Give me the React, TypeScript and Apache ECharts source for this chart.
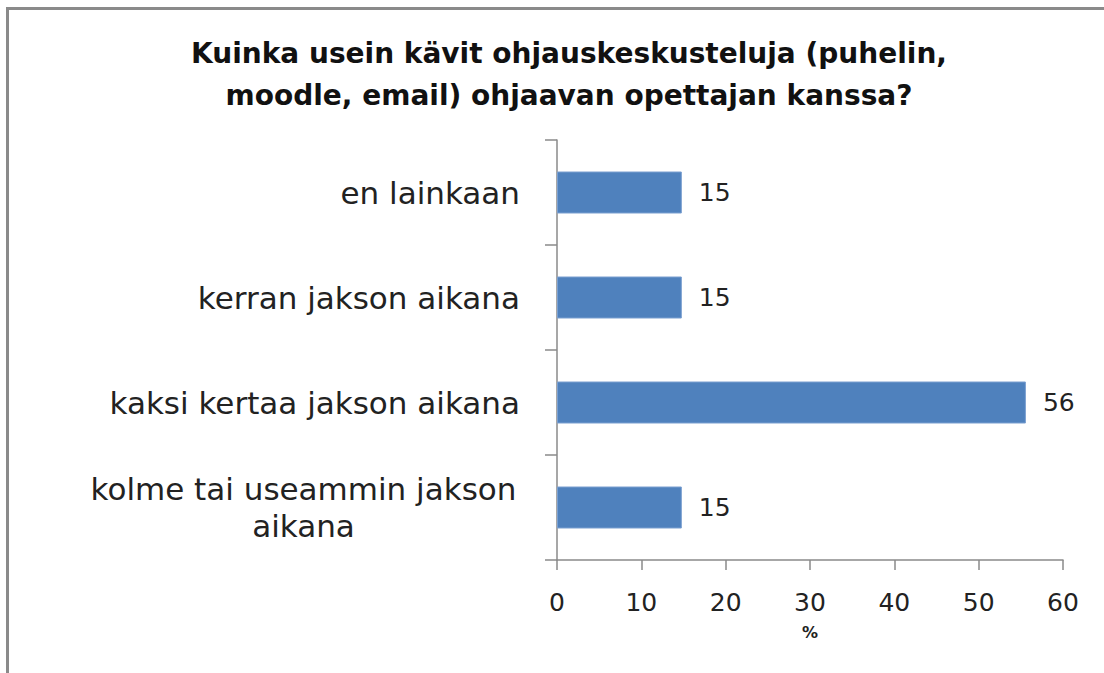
import React, { useEffect, useRef } from "react";
import * as echarts from "echarts";

const titleText = "Kuinka usein kävit ohjauskeskusteluja (puhelin,\nmoodle, email) ohjaavan opettajan kanssa?";
const categories = [
  "en lainkaan",
  "kerran jakson aikana",
  "kaksi kertaa jakson aikana",
  "kolme tai useammin jakson aikana",
];
const values = [14.8, 14.8, 55.6, 14.8];
const axisName = "%";
const FONT = "'DejaVu Sans', sans-serif";

export default function App() {
  const ref = useRef<HTMLDivElement>(null);
  useEffect(() => {
    document.body.style.margin = "0";
    const chart = echarts.init(ref.current!, null, { renderer: "svg" });
    chart.setOption({
      animation: false,
      backgroundColor: "#ffffff",
      title: {
        text: titleText,
        left: 564,
        textAlign: "center",
        top: 27,
        textStyle: {
          fontFamily: FONT,
          fontWeight: "bold",
          fontSize: 28,
          lineHeight: 42,
          color: "#111",
        },
      },
      graphic: [
        { type: "line", shape: { x1: 7.5, y1: 8.5, x2: 1104, y2: 8.5 }, style: { stroke: "#8a8a8a", lineWidth: 3 } },
        { type: "line", shape: { x1: 7.5, y1: 7, x2: 7.5, y2: 673 }, style: { stroke: "#8a8a8a", lineWidth: 3 } },
      ],
      grid: { left: 557, top: 140, right: 41, bottom: 113, containLabel: false },
      xAxis: {
        type: "value",
        min: 0,
        max: 60,
        interval: 10,
        name: axisName,
        nameLocation: "middle",
        nameGap: 64,
        nameTextStyle: { fontFamily: FONT, fontWeight: "bold", fontSize: 16, color: "#222" },
        axisLine: { show: true, lineStyle: { color: "#8a8a8a", width: 1.5 } },
        axisTick: { show: true, length: 10, lineStyle: { color: "#8a8a8a", width: 1.5 } },
        splitLine: { show: false },
        axisLabel: { fontFamily: FONT, fontSize: 25, color: "#222", margin: 30 },
      },
      yAxis: {
        type: "category",
        inverse: true,
        data: categories,
        axisLine: { show: true, lineStyle: { color: "#8a8a8a", width: 1.5 } },
        axisTick: { show: true, length: 12, lineStyle: { color: "#8a8a8a", width: 1.5 } },
        axisLabel: {
          fontFamily: FONT,
          fontSize: 31,
          color: "#222",
          margin: 37,
          align: "right",
          lineHeight: 37,
          formatter: (v: string) =>
            v === "kolme tai useammin jakson aikana"
              ? "{c|kolme tai useammin jakson}\n{c|aikana}"
              : v,
          rich: {
            c: { fontFamily: FONT, fontSize: 31, color: "#222", width: 433, align: "center", lineHeight: 37 },
          },
        },
      },
      series: [
        {
          type: "bar",
          data: values,
          barWidth: "40%",
          itemStyle: { color: "#4f81bd", borderColor: "#7a9fd0", borderWidth: 1 },
          label: {
            show: true,
            position: "right",
            distance: 17,
            fontFamily: FONT,
            fontSize: 25,
            color: "#222",
            formatter: (p: any) => String(Math.round(p.value)),
          },
        },
      ],
    });
    return () => chart.dispose();
  }, []);
  return <div ref={ref} style={{ width: 1104, height: 673 }} />;
}
